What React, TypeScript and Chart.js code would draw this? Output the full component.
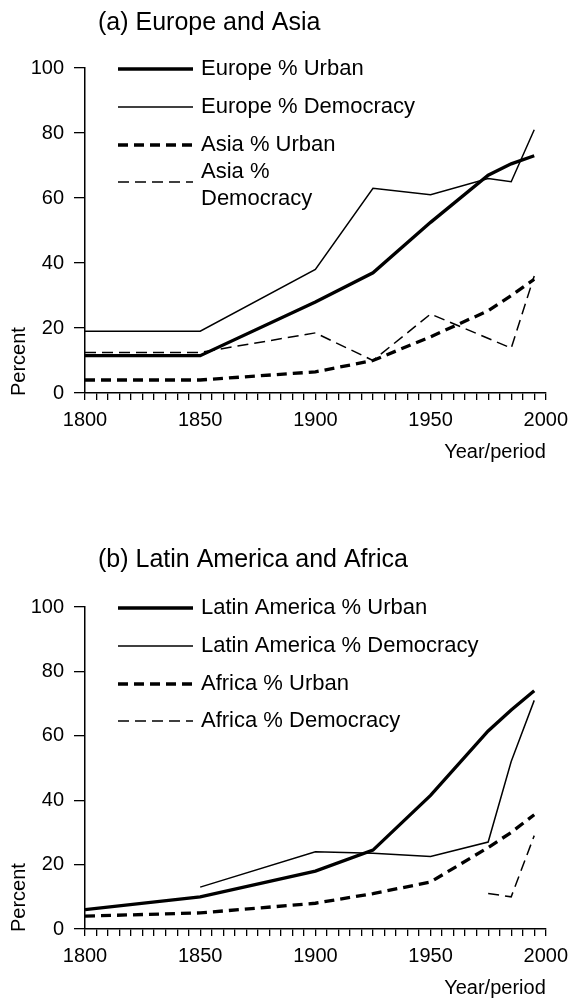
import React, { useEffect, useRef } from 'react';
import { Chart, registerables } from 'chart.js';

Chart.register(...registerables);

const FONT = "'Liberation Sans', Arial, Helvetica, sans-serif";

// Year/period categories
const years = [1800, 1850, 1900, 1925, 1950, 1975, 1985, 1995];

// (a) Europe and Asia
const europeUrban = [11.5, 11.5, 28, 37, 52.5, 67, 70.5, 73];
const europeDemocracy = [19, 19, 38, 63, 61, 66, 65, 81];
const asiaUrban = [4, 4, 6.5, 10, 17.3, 25.3, 30, 35];
const asiaDemocracy = [12.5, 12.5, 18.5, 10, 24.3, null, 13.8, 36];

// (b) Latin America and Africa
const latinUrban = [6, 10, 18, 24.5, 41.5, 61.5, 68, 74];
const latinDemocracy = [null, 13, 24, 23.5, 22.5, 27, 52, 71];
const africaUrban = [4, 5, 8, 11, 14.6, 25.3, 30, 35.5];
const africaDemocracy = [null, null, null, null, null, 11, 10, 29];

// Axis ticks
const yTicks = [0, 20, 40, 60, 80, 100];
const xLabelYears = [1800, 1850, 1900, 1950, 2000];

const titleA = '(a) Europe and Asia';
const titleB = '(b) Latin America and Africa';
const legendA = [['Europe % Urban'], ['Europe % Democracy'], ['Asia % Urban'], ['Asia %', 'Democracy']];
const legendB = [['Latin America % Urban'], ['Latin America % Democracy'], ['Africa % Urban'], ['Africa % Democracy']];

const THICK = 3.3;
const THIN = 1.5;
const THICK_DASH = [10, 6];
const THIN_DASH = [11, 6];

const decorPlugin = {
  id: 'decor',
  afterDraw(chart: any, _args: any, opts: any) {
    const { ctx, chartArea } = chart;
    ctx.save();
    ctx.fillStyle = '#000';
    ctx.strokeStyle = '#000';
    ctx.textBaseline = 'middle';
    ctx.textAlign = 'left';
    ctx.font = `25px ${FONT}`;
    ctx.fillText(opts.title, 98, opts.titleY);
    const offsets = [1, 39, 77, 114];
    chart.data.datasets.forEach((ds: any, i: number) => {
      const rowY = chartArea.top + offsets[i];
      ctx.beginPath();
      ctx.lineWidth = ds.borderWidth;
      ctx.setLineDash(ds.borderDash || []);
      ctx.moveTo(118, rowY);
      ctx.lineTo(193, rowY);
      ctx.stroke();
      ctx.setLineDash([]);
      ctx.font = `22px ${FONT}`;
      const lines = opts.legendLines[i];
      if (lines.length === 1) {
        ctx.fillText(lines[0], 201, rowY);
      } else {
        ctx.fillText(lines[0], 201, rowY - 10);
        ctx.fillText(lines[1], 201, rowY + 17);
      }
    });
    ctx.font = `20px ${FONT}`;
    ctx.textAlign = 'right';
    ctx.fillText('Year/period', chartArea.right, chartArea.bottom + 59);
    ctx.translate(19, chartArea.bottom + 3);
    ctx.rotate(-Math.PI / 2);
    ctx.textAlign = 'left';
    ctx.fillText('Percent', 0, 0);
    ctx.restore();
  },
};

function makeDataset(label: string, values: (number | null)[], thick: boolean, dashed: boolean) {
  return {
    label,
    data: years.map((y, i) => ({ x: y, y: values[i] })),
    borderColor: '#000',
    backgroundColor: '#000',
    borderWidth: thick ? THICK : THIN,
    borderDash: dashed ? (thick ? THICK_DASH : THIN_DASH) : [],
    pointRadius: 0,
    tension: 0,
    spanGaps: true,
    fill: false,
  };
}

function PanelChart(props: {
  title: string;
  titleY: number;
  legendLines: string[][];
  labels: string[];
  series: (number | null)[][];
  padTop: number;
  padBottom: number;
  top: number;
}) {
  const ref = useRef<HTMLCanvasElement | null>(null);
  useEffect(() => {
    const canvas = ref.current;
    if (!canvas) return;
    const datasets = [
      makeDataset(props.labels[0], props.series[0], true, false),
      makeDataset(props.labels[1], props.series[1], false, false),
      makeDataset(props.labels[2], props.series[2], true, true),
      makeDataset(props.labels[3], props.series[3], false, true),
    ];
    const chart = new Chart(canvas, {
      type: 'line',
      data: { datasets },
      plugins: [decorPlugin as any],
      options: {
        animation: false,
        responsive: false,
        devicePixelRatio: 1,
        layout: { padding: { top: props.padTop, right: 24, bottom: props.padBottom, left: 0 } },
        plugins: {
          legend: { display: false },
          tooltip: { enabled: false },
          title: { display: false },
          decor: { title: props.title, titleY: props.titleY, legendLines: props.legendLines },
        } as any,
        scales: {
          x: {
            type: 'linear',
            min: 1800,
            max: 2000,
            afterFit: (s: any) => { s.height = 40; },
            ticks: {
              stepSize: 5,
              autoSkip: false,
              maxRotation: 0,
              padding: 8,
              color: '#000',
              font: { family: FONT, size: 20 },
              callback: (v: any) => (xLabelYears.includes(Number(v)) ? String(v) : ''),
            },
            grid: { drawOnChartArea: false, drawTicks: true, tickLength: 7, color: '#000', lineWidth: 1.3 },
            border: { display: true, color: '#000', width: 1.5 },
          },
          y: {
            type: 'linear',
            min: 0,
            max: 100,
            afterFit: (s: any) => { s.width = 85; },
            afterBuildTicks: (s: any) => { s.ticks = yTicks.map((v) => ({ value: v })); },
            ticks: {
              padding: 10,
              color: '#000',
              font: { family: FONT, size: 20 },
            },
            grid: { drawOnChartArea: false, drawTicks: true, tickLength: 11, color: '#000', lineWidth: 1.3 },
            border: { display: true, color: '#000', width: 1.5 },
          },
        },
      } as any,
    });
    return () => chart.destroy();
  }, []);
  return (
    <canvas
      ref={ref}
      width={576}
      height={499}
      style={{ position: 'absolute', left: 0, top: props.top, width: 576, height: 499, display: 'block' }}
    />
  );
}

export default function App() {
  return (
    <div style={{ position: 'absolute', left: 0, top: 0, width: 576, height: 998, background: '#fff' }}>
      <PanelChart
        title={titleA}
        titleY={23}
        legendLines={legendA}
        labels={['Europe % Urban', 'Europe % Democracy', 'Asia % Urban', 'Asia % Democracy']}
        series={[europeUrban, europeDemocracy, asiaUrban, asiaDemocracy]}
        padTop={68}
        padBottom={66}
        top={0}
      />
      <PanelChart
        title={titleB}
        titleY={61}
        legendLines={legendB}
        labels={['Latin America % Urban', 'Latin America % Democracy', 'Africa % Urban', 'Africa % Democracy']}
        series={[latinUrban, latinDemocracy, africaUrban, africaDemocracy]}
        padTop={108}
        padBottom={29}
        top={499}
      />
    </div>
  );
}
